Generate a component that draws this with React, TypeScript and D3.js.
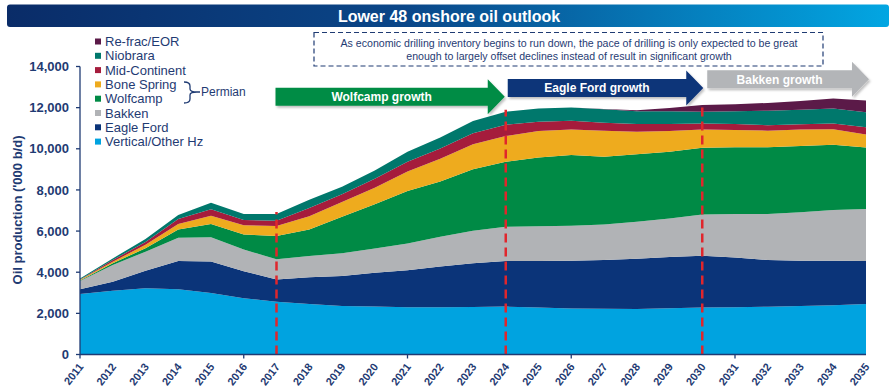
import React from "react";
import * as d3 from "d3";

const years = [2011, 2012, 2013, 2014, 2015, 2016, 2017, 2018, 2019, 2020, 2021, 2022, 2023, 2024, 2025, 2026, 2027, 2028, 2029, 2030, 2031, 2032, 2033, 2034, 2035];

// '000 b/d by play, bottom of the stack first
const vertical = [2940, 3100, 3220, 3170, 2990, 2740, 2570, 2450, 2360, 2330, 2300, 2300, 2310, 2330, 2280, 2240, 2220, 2210, 2250, 2290, 2300, 2320, 2360, 2400, 2450];
const eagleFord = [230, 440, 850, 1370, 1530, 1310, 1080, 1300, 1460, 1650, 1800, 1980, 2120, 2210, 2260, 2320, 2370, 2450, 2490, 2510, 2420, 2270, 2200, 2160, 2090];
const bakken = [400, 810, 930, 1140, 1180, 1050, 980, 1040, 1100, 1170, 1300, 1450, 1590, 1670, 1700, 1700, 1730, 1790, 1870, 2010, 2110, 2240, 2350, 2460, 2530];
const wolfcamp = [30, 80, 170, 400, 640, 730, 1130, 1290, 1780, 2150, 2550, 2680, 2980, 3160, 3340, 3440, 3290, 3280, 3250, 3240, 3250, 3250, 3220, 3180, 2990];
const boneSpring = [30, 80, 160, 260, 400, 450, 490, 640, 710, 800, 950, 1100, 1220, 1250, 1280, 1240, 1270, 1100, 1000, 890, 830, 800, 810, 750, 640];
const midContinent = [20, 80, 140, 250, 320, 260, 250, 400, 380, 440, 470, 500, 530, 550, 450, 420, 390, 370, 340, 290, 290, 270, 250, 280, 350];
const niobrara = [50, 80, 150, 190, 320, 290, 330, 400, 370, 410, 480, 540, 600, 630, 650, 650, 650, 630, 630, 570, 630, 700, 710, 730, 730];
const refracEor = [0, 0, 0, 0, 0, 0, 0, 0, 0, 0, 0, 0, 0, 0, 0, 0, 10, 40, 150, 330, 340, 380, 420, 490, 570];

const seriesKeys = ["vertical", "eagleFord", "bakken", "wolfcamp", "boneSpring", "midContinent", "niobrara", "refracEor"];
const seriesNames = ["Vertical/Other Hz", "Eagle Ford", "Bakken", "Wolfcamp", "Bone Spring", "Mid-Continent", "Niobrara", "Re-frac/EOR"];
const seriesColors = ["#00a3e0", "#0b3479", "#b1b3b6", "#008a45", "#eeab1e", "#a51c3c", "#00786c", "#5b1a48"];

const yTicks = [0, 2000, 4000, 6000, 8000, 10000, 12000, 14000];
const xTickYears = [2011, 2016, 2021, 2026, 2031];
const dividerYears = [2017, 2024, 2030];

const phases = [
  { label: "Wolfcamp growth", start: 2017, end: 2024, color: "#008c45" },
  { label: "Eagle Ford growth", start: 2024, end: 2030, color: "#0b3479" },
  { label: "Bakken growth", start: 2030, end: 2035, color: "#b3b5b8" },
];

const noteLines = [
  "As economic drilling inventory begins to run down, the pace of drilling is only expected to be great",
  "enough to largely offset declines instead of result in significant growth",
];

const NAVY = "#1f3b73";
const FONT = "'Liberation Sans', Arial, sans-serif";

export default function App() {
  const width = 891;
  const height = 391;

  const xScale = d3.scaleLinear().domain([2011, 2035]).range([80, 866]);
  const yScale = d3.scaleLinear().domain([0, 14000]).range([354.5, 66.5]);

  const table = years.map((year, i) => ({
    year,
    vertical: vertical[i],
    eagleFord: eagleFord[i],
    bakken: bakken[i],
    wolfcamp: wolfcamp[i],
    boneSpring: boneSpring[i],
    midContinent: midContinent[i],
    niobrara: niobrara[i],
    refracEor: refracEor[i],
  }));

  const stacked = d3.stack<any>().keys(seriesKeys)(table);
  const area = d3
    .area<any>()
    .x((d) => xScale(d.data.year))
    .y0((d) => yScale(d[0]))
    .y1((d) => yScale(d[1]))
    .curve(d3.curveLinear);

  const totals = table.map((row) => d3.sum(seriesKeys, (k) => row[k]));

  const legendTop = 41.5;
  const legendStep = 14.3;
  const legendOrder = seriesKeys.map((_, i) => i).reverse();

  return (
    <svg width={width} height={height} style={{ position: "absolute", left: 0, top: 0 }} fontFamily={FONT}>
      <defs>
        <linearGradient id="titleGrad" x1="0" x2="1" y1="0" y2="0">
          <stop offset="0%" stopColor="#0a2c68" />
          <stop offset="45%" stopColor="#0a4688" />
          <stop offset="100%" stopColor="#02a6e2" />
        </linearGradient>
        <filter id="shadow" x="-5%" y="-20%" width="110%" height="150%">
          <feDropShadow dx="1.5" dy="2" stdDeviation="1" floodColor="#000" floodOpacity="0.25" />
        </filter>
      </defs>

      <rect x={7} y={4.5} width={882} height={22.5} rx={3} fill="url(#titleGrad)" />
      <text x={449} y={21.5} textAnchor="middle" fill="#fff" fontSize={16} fontWeight="bold">
        Lower 48 onshore oil outlook
      </text>

      {stacked.map((layer, i) => (
        <path key={seriesKeys[i]} d={area(layer) ?? ""} fill={seriesColors[i]} />
      ))}

      {dividerYears.map((yr) => {
        const idx = years.indexOf(yr);
        return (
          <line
            key={yr}
            x1={xScale(yr)}
            x2={xScale(yr)}
            y1={yScale(0)}
            y2={yScale(totals[idx]) - 2}
            stroke="#e0262c"
            strokeWidth={2.5}
            strokeDasharray="9,5"
          />
        );
      })}

      {/* y axis */}
      <line x1={80} x2={80} y1={yScale(0)} y2={yScale(14000)} stroke={NAVY} strokeWidth={1.3} />
      {yTicks.map((t) => (
        <g key={t}>
          <line x1={76} x2={80} y1={yScale(t)} y2={yScale(t)} stroke={NAVY} strokeWidth={1.3} />
          <text x={69} y={yScale(t)} dy="0.36em" textAnchor="end" fontSize={13} fontWeight="bold" fill={NAVY}>
            {d3.format(",")(t)}
          </text>
        </g>
      ))}
      <text
        transform={`translate(21.5, 210) rotate(-90)`}
        textAnchor="middle"
        fontSize={13}
        fontWeight="bold"
        fill={NAVY}
      >
        Oil production ('000 b/d)
      </text>

      {/* x axis */}
      <line x1={80} x2={866} y1={yScale(0)} y2={yScale(0)} stroke={NAVY} strokeWidth={1.3} />
      {xTickYears.map((yr) => (
        <line key={yr} x1={xScale(yr)} x2={xScale(yr)} y1={yScale(0)} y2={yScale(0) + 4} stroke={NAVY} strokeWidth={1.3} />
      ))}
      {years.map((yr) => (
        <text
          key={yr}
          transform={`translate(${xScale(yr) + 4}, 367) rotate(-52)`}
          textAnchor="end"
          fontSize={11}
          fontWeight="bold"
          fill={NAVY}
        >
          {yr}
        </text>
      ))}

      {/* legend */}
      {legendOrder.map((si, row) => {
        const cy = legendTop + row * legendStep;
        return (
          <g key={seriesKeys[si]}>
            <rect x={95} y={cy - 3} width={6} height={6} fill={seriesColors[si]} />
            <text x={105} y={cy} dy="0.36em" fontSize={13} fill={NAVY}>
              {seriesNames[si]}
            </text>
          </g>
        );
      })}
      <path
        d="M184,82 Q190,82 190,86 L190,89 Q190,92 197,92 Q190,92 190,95 L190,99 Q190,103 184,103 M197,92 L200,92"
        fill="none"
        stroke={NAVY}
        strokeWidth={1.3}
      />
      <text x={201} y={92} dy="0.36em" fontSize={12} fill={NAVY}>
        Permian
      </text>

      {/* note box */}
      <rect x={314} y={32.5} width={509} height={33.5} fill="none" stroke={NAVY} strokeWidth={1.2} strokeDasharray="5,3" />
      {noteLines.map((line, i) => (
        <text key={i} x={569} y={46.5 + i * 13} textAnchor="middle" fontSize={10.6} fill={NAVY}>
          {line}
        </text>
      ))}

      {/* phase arrows */}
      {phases.map((p, i) => {
        const x0 = xScale(p.start) - 1 + i * 3;
        const tip = xScale(p.end) - 1 + i * 2;
        const cy = 96.7 - i * 8.7;
        const head = 17;
        const hb = 9;
        const hh = 17.5;
        const d = `M${x0},${cy - hb} L${tip - head},${cy - hb} L${tip - head},${cy - hh} L${tip},${cy} L${tip - head},${cy + hh} L${tip - head},${cy + hb} L${x0},${cy + hb} Z`;
        return (
          <g key={p.label}>
            <path d={d} fill={p.color} filter="url(#shadow)" />
            <text x={(x0 + tip - head) / 2} y={cy} dy="0.36em" textAnchor="middle" fontSize={12} fontWeight="bold" fill="#fff">
              {p.label}
            </text>
          </g>
        );
      })}
    </svg>
  );
}
